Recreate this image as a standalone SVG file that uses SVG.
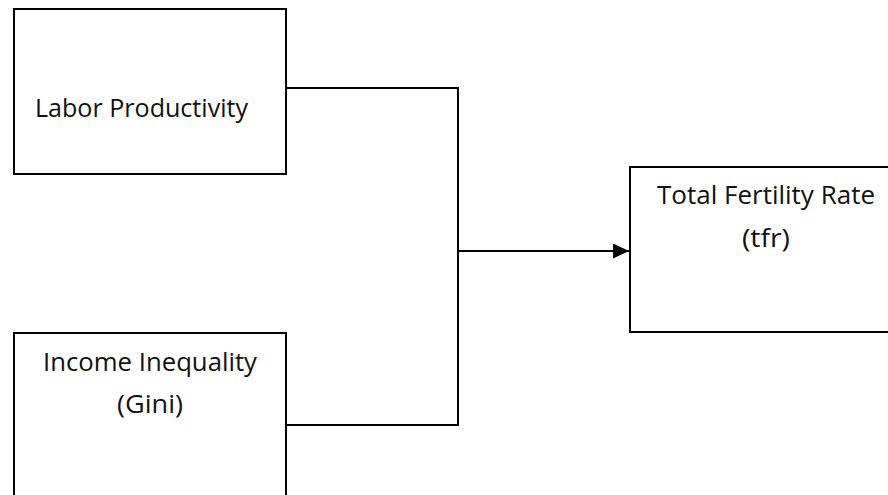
<svg xmlns="http://www.w3.org/2000/svg" width="888" height="495" viewBox="0 0 888 495">
<style>
.box{fill:#fff;stroke:#000;stroke-width:2}
.lbl{font-family:"Open Sans","Liberation Sans",sans-serif;font-size:25.5px;fill:#111}
.mid{text-anchor:middle}
.conn{fill:none;stroke:#000;stroke-width:2}
</style>
<defs>
<marker id="arr" markerWidth="8" markerHeight="7.5" refX="8" refY="3.75" orient="auto" markerUnits="strokeWidth">
<path d="M0,0 L8,3.75 L0,7.5 Z" fill="#000"/>
</marker>
</defs>
<rect width="888" height="495" fill="#fff"/>
<g id="labor">
<rect class="box" x="14" y="9" width="272" height="165"/>
<text class="lbl" x="35" y="117" textLength="213" lengthAdjust="spacingAndGlyphs">Labor Productivity</text>
</g>
<g id="gini">
<rect class="box" x="14" y="333" width="272" height="180"/>
<text class="lbl mid" x="150" y="371" textLength="214" lengthAdjust="spacingAndGlyphs">Income Inequality</text>
<text class="lbl mid" x="150" y="413" textLength="66" lengthAdjust="spacingAndGlyphs">(Gini)</text>
</g>
<g id="tfr">
<rect class="box" x="630" y="167" width="272" height="165"/>
<text class="lbl mid" x="766" y="204" textLength="218" lengthAdjust="spacingAndGlyphs">Total Fertility Rate</text>
<text class="lbl mid" x="766" y="247" textLength="48" lengthAdjust="spacingAndGlyphs">(tfr)</text>
</g>
<g id="connectors">
<polyline class="conn" points="286,88 458,88 458,425 286,425"/>
<line class="conn" x1="458" y1="251" x2="629" y2="251" marker-end="url(#arr)"/>
</g>
</svg>
